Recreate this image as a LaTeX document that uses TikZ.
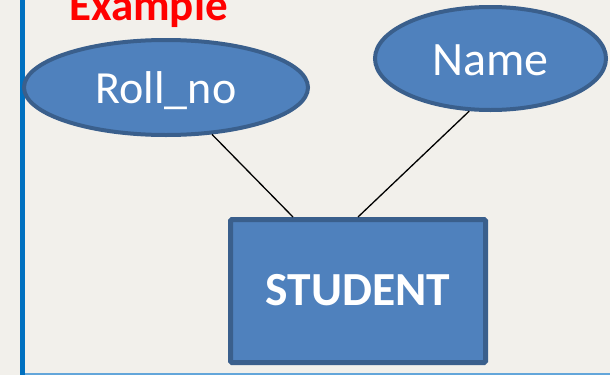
\documentclass[tikz,border=0pt]{standalone}
\usepackage{fontspec}
\setmainfont{Carlito}
\usetikzlibrary{shapes.geometric,calc}

\definecolor{paper}{HTML}{F2F0EB}
\definecolor{shapefill}{HTML}{4F81BD}
\definecolor{shapeline}{HTML}{3A5F8C}
\definecolor{barblue}{HTML}{0070C0}
\definecolor{rulelight}{HTML}{63A6DA}

\tikzset{
  attr/.style={ellipse, draw=shapeline, line width=4pt, fill=shapefill,
    text=white, inner sep=0pt, text depth=0pt},
  entity/.style={rectangle, rounded corners=1.5pt, draw=shapeline, line width=5pt,
    fill=shapefill, text=white, inner sep=0pt, text depth=0pt,
    font=\bfseries\fontsize{47.5}{52}\selectfont},
  link/.style={draw=black, line width=1.3pt},
  heading/.style={text=red, inner sep=0pt, anchor=base,
    font=\bfseries\fontsize{45}{50}\selectfont}
}

\begin{document}
\begin{tikzpicture}[x=1pt,y=-1pt]
  % page and frame
  \fill[paper] (0,0) rectangle (610,375);
  \useasboundingbox (0,0) rectangle (610,375);
  \fill[barblue] (20,0) rectangle (25,375);
  \fill[rulelight] (25,372.5) rectangle (610,375);

  % title
  \node[heading] (title) at (148.5,20.5) {Example};

  % entity and attributes
  \node[entity, minimum width=255pt, minimum height=143pt, text height=28pt]
    (stud) at (358,291) {STUDENT};
  \node[attr, minimum width=284pt, minimum height=95pt, text height=31pt,
    font=\fontsize{46}{50}\selectfont]
    (roll) at (166,87.5) {Roll\_no};
  \node[attr, minimum width=231pt, minimum height=103pt, text height=33pt,
    font=\fontsize{48}{52}\selectfont]
    (name) at (490.5,58.5) {Name};

  % connectors
  \coordinate (rollfoot) at ($(stud.north west)!0.25!(stud.north east)$);
  \draw[link] (roll) -- (rollfoot);
  \draw[link] (name.248) -- (stud.north);
\end{tikzpicture}
\end{document}
